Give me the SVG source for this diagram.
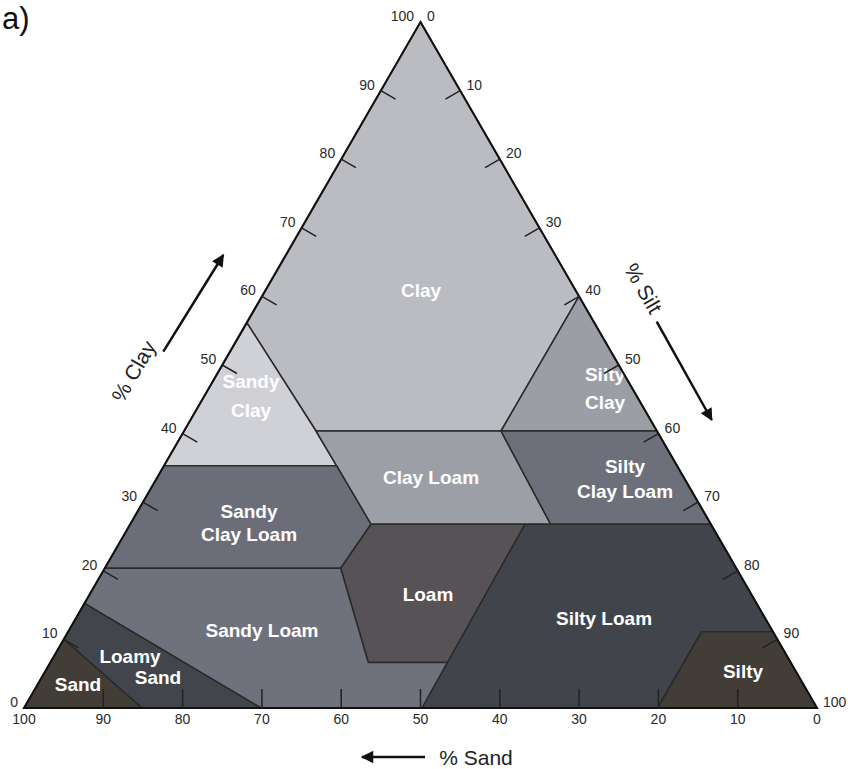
<svg xmlns="http://www.w3.org/2000/svg" width="848" height="769" viewBox="0 0 848 769">
<defs>
<style>
.reg{stroke:#2a2a2a;stroke-width:1.5;stroke-linejoin:round}
.lbl{font-family:"Liberation Sans",Arial,sans-serif;font-weight:bold;font-size:19px;fill:#ffffff;text-anchor:middle}
.tk{font-family:"Liberation Sans",Arial,sans-serif;font-size:14px;fill:#2a2a2a}
.ax{font-family:"Liberation Sans",Arial,sans-serif;font-size:21px;fill:#222}
.tick{stroke:#222;stroke-width:1.5;fill:none}
.arr{stroke:#111;stroke-width:2.5;fill:none}
</style>
<marker id="ah" viewBox="0 0 10 10" refX="9" refY="5" markerWidth="6" markerHeight="5" orient="auto" markerUnits="strokeWidth">
<path d="M0,0 L10,5 L0,10 z" fill="#111"/>
</marker>
</defs>
<rect width="848" height="769" fill="#ffffff"/>
<text x="2" y="29" font-family="Liberation Sans,Arial,sans-serif" font-size="31" fill="#111">a)</text>

<g id="clay"><polygon class="reg" fill="#bbbcc1" points="420.5,22 579,296.4 501,431 316,431 247,323"/><text class="lbl" x="421" y="297">Clay</text></g>
<g id="sandy-clay"><polygon class="reg" fill="#d0d1d6" points="247,323 316,431 336.5,465.7 164,465.7"/><text class="lbl" x="251" y="388">Sandy</text><text class="lbl" x="251" y="417">Clay</text></g>
<g id="silty-clay"><polygon class="reg" fill="#9c9ea6" points="579,296.4 657,431 501,431"/><text class="lbl" x="605" y="381">Silty</text><text class="lbl" x="605" y="409">Clay</text></g>
<g id="clay-loam"><polygon class="reg" fill="#9d9fa7" points="316,431 501,431 550.7,524.3 371,524.3 336.5,465.7"/><text class="lbl" x="431" y="484">Clay Loam</text></g>
<g id="silty-clay-loam"><polygon class="reg" fill="#6d707a" points="501,431 657,431 711.2,524.3 550.7,524.3"/><text class="lbl" x="625" y="473">Silty</text><text class="lbl" x="625" y="498">Clay Loam</text></g>
<g id="sandy-clay-loam"><polygon class="reg" fill="#6b6e79" points="164,465.7 336.5,465.7 371,524.3 340.7,568.3 104.7,568.3"/><text class="lbl" x="249" y="518">Sandy</text><text class="lbl" x="249" y="541">Clay Loam</text></g>
<g id="loam"><polygon class="reg" fill="#575256" points="371,524.3 525,524.3 447.5,662.5 368.3,662.5 340.7,568.3"/><text class="lbl" x="428" y="601">Loam</text></g>
<g id="sandy-loam"><polygon class="reg" fill="#6f727c" points="84.5,603.3 104.7,568.3 340.7,568.3 368.3,662.5 447.5,662.5 422,708 261,708"/><text class="lbl" x="262" y="637">Sandy Loam</text></g>
<g id="silty-loam"><polygon class="reg" fill="#41444b" points="525,524.3 711.2,524.3 772.9,631.7 701.7,631.7 657.5,708 422,708"/><text class="lbl" x="604" y="625">Silty Loam</text></g>
<g id="silty"><polygon class="reg" fill="#433d38" points="701.7,631.7 772.9,631.7 817,708 657.5,708"/><text class="lbl" x="743" y="678">Silty</text></g>
<g id="loamy-sand"><polygon class="reg" fill="#42454c" points="63.9,639.4 84.5,603.3 261,708 142,708"/><text class="lbl" x="130" y="663">Loamy</text><text class="lbl" x="158" y="684">Sand</text></g>
<g id="sand"><polygon class="reg" fill="#433d38" points="24,708 63.9,639.4 142,708"/><text class="lbl" x="78" y="691">Sand</text></g>

<g id="frame"><polygon points="420.5,22 817,708 24,708" fill="none" stroke="#111" stroke-width="2" stroke-linejoin="miter"/></g>

<g id="ticks" class="tick">
<path d="M63.65,639.4 l14.7,8.5 M103.3,570.8 l14.7,8.5 M142.95,502.2 l14.7,8.5 M182.6,433.6 l14.7,8.5 M222.25,365 l14.7,8.5 M261.9,296.4 l14.7,8.5 M301.55,227.8 l14.7,8.5 M341.2,159.2 l14.7,8.5 M380.85,90.6 l14.7,8.5"/>
<path d="M460.15,90.6 l-14.7,8.5 M499.8,159.2 l-14.7,8.5 M539.45,227.8 l-14.7,8.5 M579.1,296.4 l-14.7,8.5 M618.75,365 l-14.7,8.5 M658.4,433.6 l-14.7,8.5 M698.05,502.2 l-14.7,8.5 M737.7,570.8 l-14.7,8.5 M777.35,639.4 l-14.7,8.5"/>
<path d="M103.3,708 v-19 M182.6,708 v-19 M261.9,708 v-19 M341.2,708 v-19 M420.5,708 v-19 M499.8,708 v-19 M579.1,708 v-19 M658.4,708 v-19 M737.7,708 v-19"/>
</g>

<g id="clay-scale" class="tk" text-anchor="end">
<text x="18" y="707">0</text>
<text x="57.6" y="638.4">10</text>
<text x="97.3" y="569.8">20</text>
<text x="137" y="501.2">30</text>
<text x="176.6" y="432.6">40</text>
<text x="216.2" y="364">50</text>
<text x="255.9" y="295.4">60</text>
<text x="295.5" y="226.8">70</text>
<text x="335.2" y="158.2">80</text>
<text x="374.8" y="89.6">90</text>
<text x="414" y="21">100</text>
</g>
<g id="silt-scale" class="tk" text-anchor="start">
<text x="427" y="21">0</text>
<text x="466.4" y="89.6">10</text>
<text x="506" y="158.2">20</text>
<text x="545.7" y="226.8">30</text>
<text x="585.3" y="295.4">40</text>
<text x="625" y="364">50</text>
<text x="664.6" y="432.6">60</text>
<text x="704.3" y="501.2">70</text>
<text x="743.9" y="569.8">80</text>
<text x="783.6" y="638.4">90</text>
<text x="823" y="707">100</text>
</g>
<g id="sand-scale" class="tk" text-anchor="middle">
<text x="24" y="724">100</text>
<text x="103.3" y="724">90</text>
<text x="182.6" y="724">80</text>
<text x="261.9" y="724">70</text>
<text x="341.2" y="724">60</text>
<text x="420.5" y="724">50</text>
<text x="499.8" y="724">40</text>
<text x="579.1" y="724">30</text>
<text x="658.4" y="724">20</text>
<text x="737.7" y="724">10</text>
<text x="817" y="724">0</text>
</g>

<g id="connectors">
<line class="arr" x1="163.3" y1="351.7" x2="223.3" y2="255" marker-end="url(#ah)"/>
<line class="arr" x1="656.7" y1="321.7" x2="711.7" y2="420" marker-end="url(#ah)"/>
<line class="arr" x1="425" y1="757" x2="362" y2="757" marker-end="url(#ah)"/>
</g>

<g id="axis-titles" class="ax">
<text x="476" y="765" text-anchor="middle">% Sand</text>
<text transform="translate(140,375) rotate(-60)" text-anchor="middle">% Clay</text>
<text transform="translate(637,292) rotate(60)" text-anchor="middle">% Silt</text>
</g>
</svg>
